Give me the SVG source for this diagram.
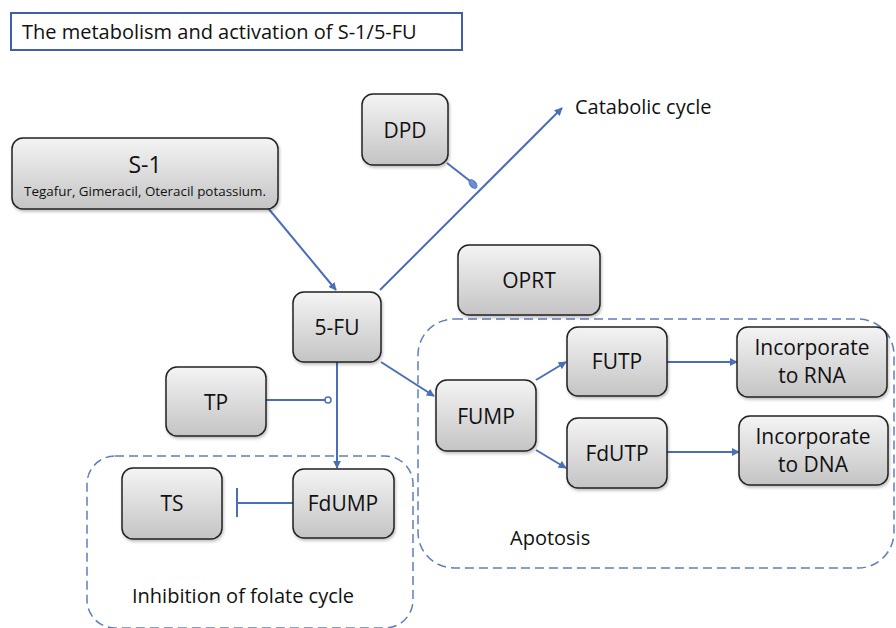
<svg xmlns="http://www.w3.org/2000/svg" width="896" height="628" viewBox="0 0 896 628">
<defs>
<linearGradient id="g" x1="0" y1="0" x2="0" y2="1">
<stop offset="0" stop-color="#f4f4f4"/>
<stop offset="1" stop-color="#c4c4c4"/>
</linearGradient>
<filter id="sh" x="-10%" y="-10%" width="130%" height="140%">
<feDropShadow dx="1" dy="2" stdDeviation="1.5" flood-color="#000" flood-opacity="0.25"/>
</filter>
<marker id="ah" viewBox="0 0 10 10" refX="9" refY="5" markerWidth="8" markerHeight="8" markerUnits="userSpaceOnUse" orient="auto">
<path d="M0,0 L10,5 L0,10 z" fill="#4a6fb8"/>
</marker>
</defs>
<style>
.box{fill:url(#g);stroke:#222;stroke-width:1.5;filter:url(#sh)}
.t{font-family:"Open Sans","Liberation Sans",sans-serif;font-size:21px;fill:#111;text-anchor:middle}
.tl{font-family:"Open Sans","Liberation Sans",sans-serif;font-size:20px;fill:#111}
.c{stroke:#4a6fb8;stroke-width:2;fill:none}
.dash{fill:none;stroke:#5d7fba;stroke-width:1.5;stroke-dasharray:9,5}
</style>
<rect width="896" height="628" fill="#fff"/>
<g id="title">
<rect x="11" y="13" width="451" height="37" fill="#fff" stroke="#3f5fa8" stroke-width="2"/>
<text class="tl" x="22" y="39">The metabolism and activation of S-1/5-FU</text>
</g>
<g id="apoptosis-region">
<rect class="dash" x="418" y="319" width="476" height="249" rx="36"/>
<text class="tl" x="510" y="545">Apotosis</text>
</g>
<g id="folate-region">
<rect class="dash" x="87" y="456" width="326" height="172" rx="28"/>
<text class="tl" x="132" y="603">Inhibition of folate cycle</text>
</g>
<g id="connectors">
<line class="c" x1="268" y1="208" x2="336" y2="290" marker-end="url(#ah)"/>
<line class="c" x1="380" y1="290" x2="562" y2="108" marker-end="url(#ah)"/>
<line class="c" x1="447" y1="163" x2="470" y2="181"/>
<ellipse cx="473" cy="184" rx="3" ry="5" transform="rotate(-40 473 184)" fill="#6a8fd8" stroke="#4a6fb8" stroke-width="1"/>
<line class="c" x1="337" y1="362" x2="337" y2="468" marker-end="url(#ah)"/>
<line class="c" x1="266" y1="400" x2="325" y2="400"/>
<circle cx="328" cy="400" r="3" fill="#fff" stroke="#4a6fb8" stroke-width="1.5"/>
<line class="c" x1="293" y1="503" x2="237" y2="503"/>
<line class="c" x1="237" y1="488" x2="237" y2="517"/>
<line class="c" x1="381" y1="362" x2="434" y2="396" marker-end="url(#ah)"/>
<line class="c" x1="536" y1="380" x2="566" y2="362" marker-end="url(#ah)"/>
<line class="c" x1="536" y1="450" x2="566" y2="468" marker-end="url(#ah)"/>
<line class="c" x1="667" y1="362" x2="737" y2="362" marker-end="url(#ah)"/>
<line class="c" x1="667" y1="452" x2="739" y2="452" marker-end="url(#ah)"/>
</g>
<g id="s1">
<rect class="box" x="12" y="138" width="266" height="71" rx="11"/>
<text class="t" x="145" y="173" style="font-size:23px">S-1</text>
<text class="t" x="145" y="196" style="font-size:13.4px">Tegafur, Gimeracil, Oteracil potassium.</text>
</g>
<g id="dpd">
<rect class="box" x="362" y="94" width="86" height="71" rx="11"/>
<text class="t" x="405" y="138">DPD</text>
</g>
<g id="catabolic">
<text class="tl" x="575" y="114">Catabolic cycle</text>
</g>
<g id="fu5">
<rect class="box" x="293" y="292" width="88" height="70" rx="11"/>
<text class="t" x="337" y="335">5-FU</text>
</g>
<g id="oprt">
<rect class="box" x="458" y="245" width="142" height="70" rx="11"/>
<text class="t" x="529" y="288">OPRT</text>
</g>
<g id="tp">
<rect class="box" x="166" y="367" width="100" height="69" rx="11"/>
<text class="t" x="216" y="410">TP</text>
</g>
<g id="fump">
<rect class="box" x="436" y="380" width="100" height="71" rx="11"/>
<text class="t" x="486" y="424">FUMP</text>
</g>
<g id="futp">
<rect class="box" x="567" y="327" width="100" height="69" rx="11"/>
<text class="t" x="617" y="369">FUTP</text>
</g>
<g id="fdutp">
<rect class="box" x="567" y="418" width="100" height="70" rx="11"/>
<text class="t" x="617" y="461">FdUTP</text>
</g>
<g id="rna">
<rect class="box" x="737" y="327" width="150" height="70" rx="11"/>
<text class="t" x="812" y="355">Incorporate</text>
<text class="t" x="812" y="383">to RNA</text>
</g>
<g id="dna">
<rect class="box" x="739" y="416" width="149" height="69" rx="11"/>
<text class="t" x="813" y="444">Incorporate</text>
<text class="t" x="813" y="472">to DNA</text>
</g>
<g id="ts">
<rect class="box" x="122" y="468" width="100" height="71" rx="11"/>
<text class="t" x="172" y="511">TS</text>
</g>
<g id="fdump">
<rect class="box" x="293" y="469" width="101" height="69" rx="11"/>
<text class="t" x="343" y="511">FdUMP</text>
</g>
</svg>
